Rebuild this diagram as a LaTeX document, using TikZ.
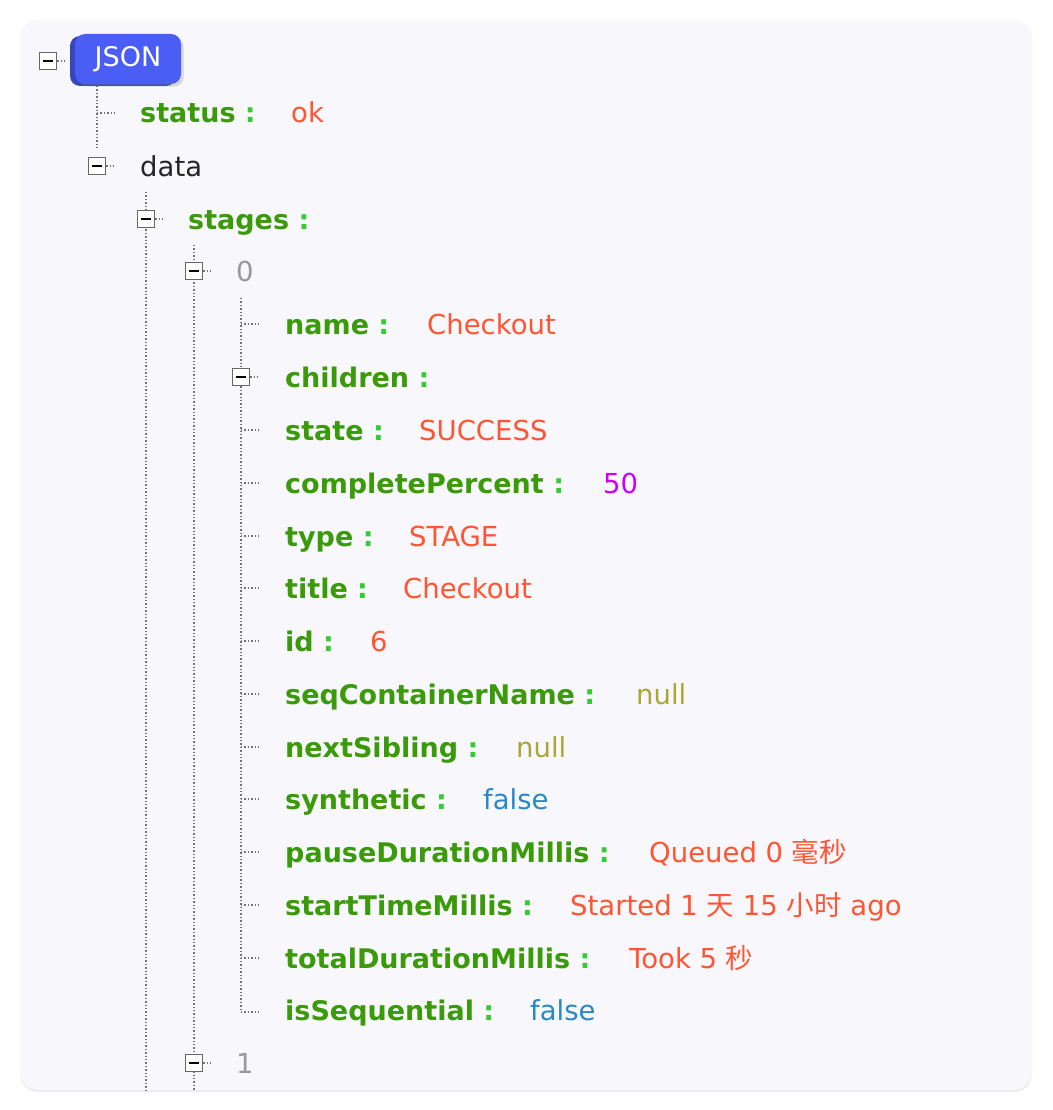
\documentclass[tikz,border=0pt]{standalone}
\usepackage{fontspec}
\setmainfont{DejaVu Sans}
\newfontfamily\cjk{Noto Sans CJK SC}
\usetikzlibrary{shadows}
\definecolor{keyc}{HTML}{3A9A0A}
\definecolor{colc}{HTML}{33CC33}
\definecolor{strc}{HTML}{FF5533}
\definecolor{numc}{HTML}{CC00FF}
\definecolor{nullc}{HTML}{AAA833}
\definecolor{boolc}{HTML}{2A88C8}
\definecolor{idxc}{HTML}{999999}
\definecolor{btn}{HTML}{4A5EF5}
\definecolor{card}{HTML}{F7F7FC}
\begin{document}
\begin{tikzpicture}[x=1pt,y=-1pt,
  txt/.style={anchor=base west,inner sep=0pt,yshift=-10pt,font=\fontsize{27.5}{30}\selectfont},
  key/.style={txt,text=keyc,font=\fontsize{27}{30}\selectfont\bfseries},
  tog/.style={draw=black!60,fill=white,line width=1.5pt,minimum size=17pt,inner sep=0pt},
  dl/.style={draw=black!55,line width=1.4pt,dotted}]
\useasboundingbox (0,0) rectangle (1052,1110);
\fill[white] (0,0) rectangle (1052,1110);
\node[draw=none,fill=card,rounded corners=18pt,minimum width=1012pt,minimum height=1070pt,drop shadow={opacity=0.15,shadow xshift=0pt,shadow yshift=-2pt}] (cardn) at (526,555) {};
\newcommand{\tgl}[3]{\node[tog] (#1) at (#2,#3) {}; \draw[line width=2.2pt] ([xshift=-5pt]#1.center) -- ([xshift=5pt]#1.center); \draw[dl] (#1.east) -- ++(8,0);}
\draw[dl] (97,86) -- (97,148);
\draw[dl] (146,192) -- (146,1090);
\draw[dl] (194,245) -- (194,1090);
\draw[dl] (241,298) -- (241,1012);
\draw[dl] (97,113) -- (117,113);
\foreach \y in {324,430,483,536,588,641,694,747,799,852,905,958,1012} \draw[dl] (241,\y) -- (261,\y);
\tgl{t0}{48}{61}
\tgl{t1}{97}{166}
\tgl{t2}{146}{219}
\tgl{t3}{194}{271}
\tgl{t4}{241}{377}
\tgl{t5}{194}{1063}
\fill[btn!75!black,rounded corners=10pt] (70,36) rectangle (176,86);
\node[fill=btn,rounded corners=10pt,minimum width=106pt,minimum height=50pt,text=white,font=\fontsize{27}{30}\selectfont,drop shadow={opacity=0.25}] (json) at (128,59) {JSON};
\newcommand{\kv}[4]{\node[key] (k#1) at (#2,#3) {#4 {\color{colc}:}};}
\kv{status}{140}{113}{status}
\node[txt,text=black!85] (kdata) at (140,166) {data};
\kv{stages}{188}{219}{stages}
\node[txt,text=idxc] (k0) at (236,271) {0};
\kv{name}{285}{324}{name}
\kv{children}{285}{377}{children}
\kv{state}{285}{430}{state}
\kv{cp}{285}{483}{completePercent}
\kv{type}{285}{536}{type}
\kv{title}{285}{588}{title}
\kv{id}{285}{641}{id}
\kv{seq}{285}{694}{seqContainerName}
\kv{next}{285}{747}{nextSibling}
\kv{syn}{285}{799}{synthetic}
\kv{pause}{285}{852}{pauseDurationMillis}
\kv{start}{285}{905}{startTimeMillis}
\kv{total}{285}{958}{totalDurationMillis}
\kv{isseq}{285}{1010}{isSequential}
\node[txt,text=idxc] (k1) at (236,1063) {1};
\node[txt,text=strc] (vstatus) at (291,113) {ok};
\node[txt,text=strc] (vname) at (427,324) {Checkout};
\node[txt,text=strc] (vstate) at (419,430) {SUCCESS};
\node[txt,text=numc] (vcp) at (603,483) {50};
\node[txt,text=strc] (vtype) at (409,536) {STAGE};
\node[txt,text=strc] (vtitle) at (403,588) {Checkout};
\node[txt,text=strc] (vid) at (370,641) {6};
\node[txt,text=nullc] (vseq) at (636,694) {null};
\node[txt,text=nullc] (vnext) at (516,747) {null};
\node[txt,text=boolc] (vsyn) at (483,799) {false};
\node[txt,text=strc] (vpause) at (649,852) {Queued 0 {\cjk 毫秒}};
\node[txt,text=strc] (vstart) at (570,905) {Started 1 {\cjk 天} 15 {\cjk 小时} ago};
\node[txt,text=strc] (vtotal) at (629,958) {Took 5 {\cjk 秒}};
\node[txt,text=boolc] (visseq) at (530,1010) {false};
\end{tikzpicture}
\end{document}
